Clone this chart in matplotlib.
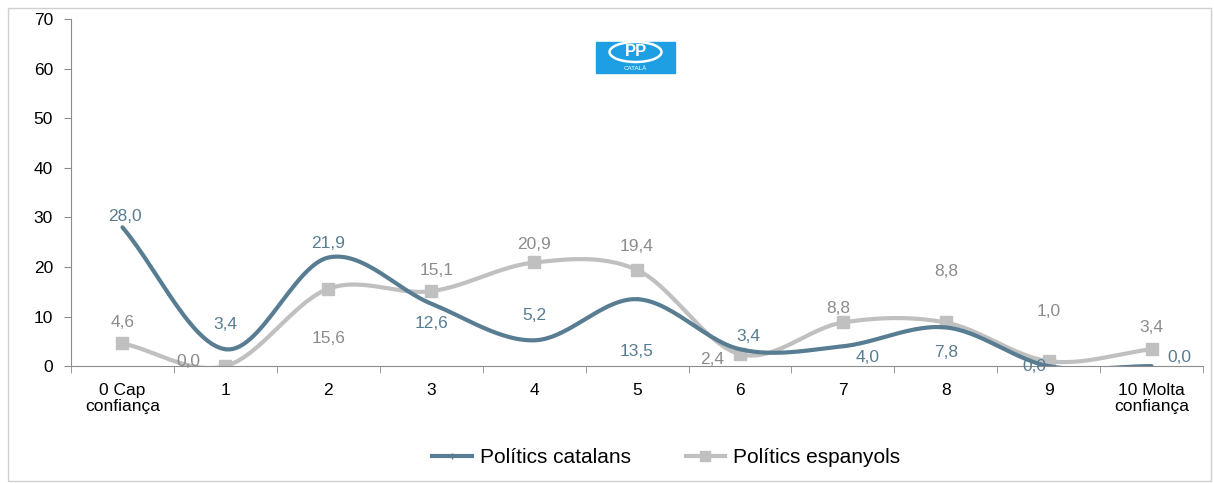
import numpy as np
from matplotlib import pyplot as plt
from matplotlib.patches import Rectangle, Ellipse

# Categories and values
categories = ['0 Cap\nconfiança', '1', '2', '3', '4', '5', '6', '7', '8', '9',
              '10 Molta\nconfiança']
catalans = [28.0, 3.4, 21.9, 12.6, 5.2, 13.5, 3.4, 4.0, 7.8, 0.0, 0.0]
espanyols = [4.6, 0.0, 15.6, 15.1, 20.9, 19.4, 2.4, 8.8, 8.8, 1.0, 3.4]

# label offsets in points (dx, dy)
off_cat = [(2, 8), (0, 18), (0, 10), (0, -14), (0, 18), (0, -38), (6, 9),
           (18, -8), (0, -18), (-10, 0), (20, 6)]
off_esp = [(0, 15), (-27, 3), (0, -36), (4, 15), (0, 13), (0, 17), (-20, -4),
           (-3, 10), (0, 37), (0, 36), (0, 16)]

c_cat = '#587d92'
c_esp = '#c0c0c0'
t_esp = '#8c8c8c'


def smooth(y, n=30):
    # Catmull-Rom curve through the points (like Excel smoothed line)
    y = np.asarray(y, float)
    x = np.arange(len(y), dtype=float)
    px = np.concatenate(([2*x[0]-x[1]], x, [2*x[-1]-x[-2]]))
    py = np.concatenate(([2*y[0]-y[1]], y, [2*y[-1]-y[-2]]))
    xs, ys = [], []
    t = np.linspace(0, 1, n)
    for i in range(1, len(px)-2):
        for p, out in ((px, xs), (py, ys)):
            p0, p1, p2, p3 = p[i-1], p[i], p[i+1], p[i+2]
            out.append(0.5*((2*p1) + (-p0+p2)*t + (2*p0-5*p1+4*p2-p3)*t**2
                            + (-p0+3*p1-3*p2+p3)*t**3))
    return np.concatenate(xs), np.concatenate(ys)


plt.rcParams['font.family'] = ['Liberation Sans', 'DejaVu Sans']
fig = plt.figure(figsize=(12.14, 4.83), dpi=100)
ax = fig.add_axes([0.0585, 0.242, 0.9325, 0.7185])

x = np.arange(len(categories))
sx, sy = smooth(catalans)
ax.plot(sx, sy, color=c_cat, lw=3, solid_capstyle='round', zorder=3)
sx, sy = smooth(espanyols)
ax.plot(sx, sy, color=c_esp, lw=3, solid_capstyle='round', zorder=2)
ax.plot(x, espanyols, 's', color=c_esp, ms=9, zorder=2)

# legend handles
ax.plot([], [], color=c_cat, lw=3, marker='|', ms=5, label='Polítics catalans')
ax.plot([], [], color=c_esp, lw=3, marker='s', ms=7, label='Polítics espanyols')

for i in range(len(categories)):
    ax.annotate(f'{catalans[i]:.1f}'.replace('.', ','), (x[i], catalans[i]),
                xytext=off_cat[i], textcoords='offset points', ha='center',
                va='center', color=c_cat, fontsize=12.5, zorder=5)
    ax.annotate(f'{espanyols[i]:.1f}'.replace('.', ','), (x[i], espanyols[i]),
                xytext=off_esp[i], textcoords='offset points', ha='center',
                va='center', color=t_esp, fontsize=12.5, zorder=5)

ax.set_xlim(-0.5, 10.5)
ax.set_ylim(0, 70)
ax.set_yticks(range(0, 71, 10))
ax.set_xticks(x)
ax.set_xticklabels(categories, fontsize=12.5, linespacing=1.1)
ax.set_xticks(np.arange(-0.5, 11, 1), minor=True)
ax.tick_params(axis='x', which='major', length=0, pad=12)
ax.tick_params(axis='x', which='minor', length=5, color='#8c8c8c')
ax.tick_params(axis='y', length=5, color='#8c8c8c', labelsize=12.5, pad=8)
for s in ['top', 'right']:
    ax.spines[s].set_visible(False)
for s in ['left', 'bottom']:
    ax.spines[s].set_color('#8c8c8c')

leg = fig.legend(loc='center', bbox_to_anchor=(0.549, 0.053), ncol=2,
                 frameon=False, fontsize=15, handlelength=1.9,
                 columnspacing=2.6, handletextpad=0.4)

# logo
fig.patches.append(Rectangle((596/1214, 1-73/483), 79/1214, 31/483,
                             transform=fig.transFigure, color='#1e9fe3',
                             zorder=1))
fig.patches.append(Ellipse((635.5/1214, 1-52/483), 52/1214, 20/483,
                           transform=fig.transFigure, fill=False, ec='white',
                           lw=1.8, zorder=2))
fig.text(635.5/1214, 1-52/483, 'PP', color='white', fontsize=12,
         fontweight='bold', ha='center', va='center')
fig.text(635.5/1214, 1-68/483, 'CATALÀ', color='white', fontsize=4.5,
         ha='center', va='center')

# outer border
fig.patches.append(Rectangle((8/1214, 2/483), 1203/1214, 473/483,
                             transform=fig.transFigure, fill=False,
                             ec='#d0d0d0', lw=1))

fig.savefig('out.png', dpi=100)
